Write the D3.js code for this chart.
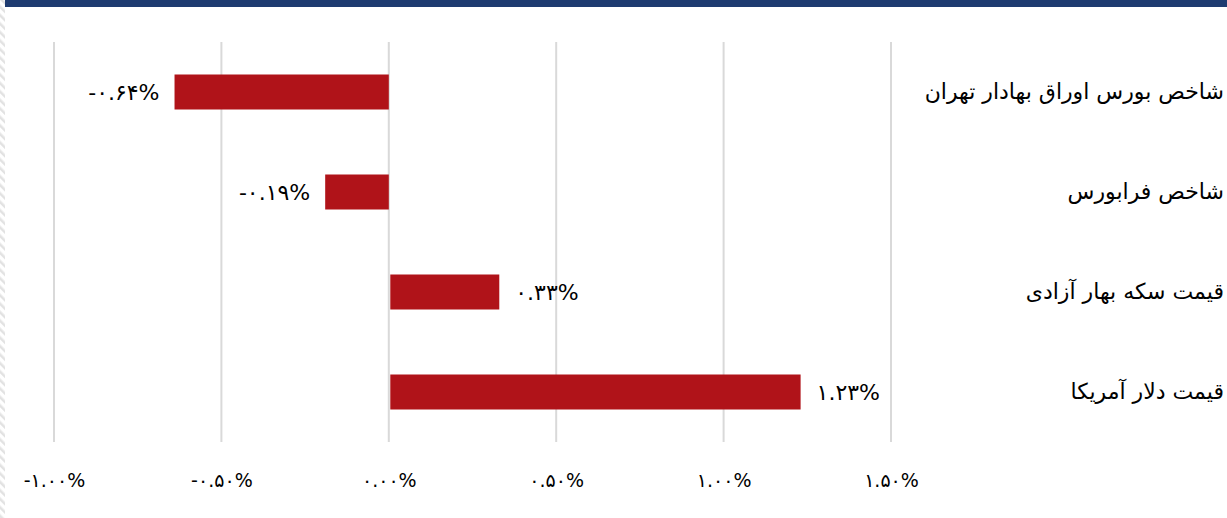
<!DOCTYPE html>
<html>
<head>
<meta charset="utf-8">
<script src="https://cdn.jsdelivr.net/npm/d3@7"></script>
<style>
  html, body { margin: 0; padding: 0; background: #fff; }
  svg text { font-family: 'DejaVu Sans', sans-serif; fill: #000; }
</style>
</head>
<body>
<div id="chart"></div>
<script>
const categories = [
  'شاخص بورس اوراق بهادار تهران',
  'شاخص فرابورس',
  'قیمت سکه بهار آزادی',
  'قیمت دلار آمریکا'
]
const values = [-0.64, -0.19, 0.33, 1.23]
const valueLabels = ['-۰.۶۴%', '-۰.۱۹%', '۰.۳۳%', '۱.۲۳%']
const tickValues = [-1, -0.5, 0, 0.5, 1, 1.5]
const tickLabels = ['-۱.۰۰%', '-۰.۵۰%', '۰.۰۰%', '۰.۵۰%', '۱.۰۰%', '۱.۵۰%']

const width = 1227
const height = 518

const svg = d3.select('#chart').append('svg')
  .attr('width', width)
  .attr('height', height)

// hatched strip on the left edge
const defs = svg.append('defs')
defs.append('pattern')
  .attr('id', 'hatch')
  .attr('patternUnits', 'userSpaceOnUse')
  .attr('width', 6)
  .attr('height', 6)
  .attr('patternTransform', 'rotate(-45)')
  .append('rect')
  .attr('width', 2.5)
  .attr('height', 6)
  .attr('fill', '#e2e2e2')

svg.append('rect')
  .attr('x', 0).attr('y', 0)
  .attr('width', 5).attr('height', height)
  .attr('fill', 'url(#hatch)')

// top band
svg.append('rect')
  .attr('x', 5).attr('y', 0)
  .attr('width', width - 5).attr('height', 7)
  .attr('fill', '#1e3b70')

const x = d3.scaleLinear().domain([-1, 1.5]).range([54, 891])
const y = d3.scaleBand().domain(categories).range([42, 442])
  .paddingInner(0.65).paddingOuter(0.325)

// gridlines
svg.append('g')
  .selectAll('line')
  .data(tickValues)
  .enter().append('line')
  .attr('x1', d => x(d)).attr('x2', d => x(d))
  .attr('y1', 42).attr('y2', 442)
  .attr('stroke', '#d9d9d9')
  .attr('stroke-width', 2)

// bottom axis labels
const axis = svg.append('g')
  .attr('transform', 'translate(0,' + 442 + ')')
  .call(d3.axisBottom(x).tickValues(tickValues).tickSize(0).tickPadding(0)
    .tickFormat((d, i) => tickLabels[i]))
axis.select('.domain').remove()
axis.selectAll('.tick text')
  .attr('y', 45)
  .attr('dy', 0)
  .attr('direction', 'ltr')
  .style('font-family', "'DejaVu Sans', sans-serif")
  .style('font-size', '19px')
  .attr('fill', '#000')

// bars
svg.append('g')
  .selectAll('rect')
  .data(values)
  .enter().append('rect')
  .attr('x', d => x(Math.min(0, d)) + (d > 0 ? 1.5 : 0))
  .attr('y', (d, i) => y(categories[i]))
  .attr('width', d => Math.abs(x(d) - x(0)) - (d > 0 ? 1.5 : 0))
  .attr('height', y.bandwidth())
  .attr('fill', '#b01319')

// value labels
svg.append('g')
  .selectAll('text')
  .data(values)
  .enter().append('text')
  .attr('x', d => d < 0 ? x(d) - 15 : x(d) + 16)
  .attr('y', (d, i) => y(categories[i]) + y.bandwidth() / 2)
  .attr('dy', '0.36em')
  .attr('text-anchor', d => d < 0 ? 'end' : 'start')
  .attr('direction', 'ltr')
  .style('font-size', '22px')
  .text((d, i) => valueLabels[i])

// category labels
svg.append('g')
  .selectAll('text')
  .data(categories)
  .enter().append('text')
  .attr('x', 1224)
  .attr('y', d => y(d) + y.bandwidth() / 2)
  .attr('dy', '0.3em')
  .attr('text-anchor', 'end')
  .style('font-size', '22px')
  .text(d => d)
</script>
</body>
</html>
